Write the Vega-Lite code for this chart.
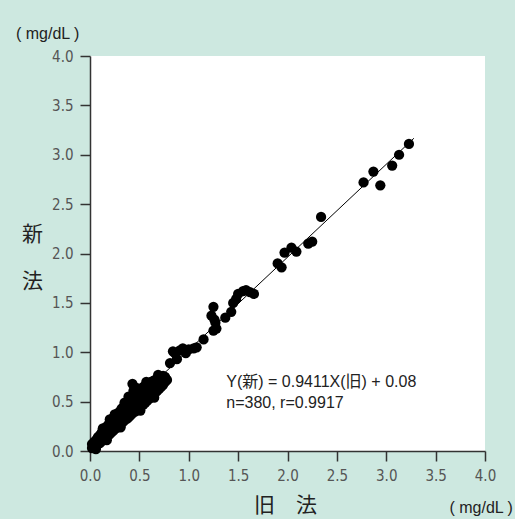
{
  "$schema": "https://vega.github.io/schema/vega-lite/v6.json",
  "width": 395,
  "height": 395,
  "autosize": {"type": "none"},
  "padding": {"left": 90, "top": 56, "right": 30, "bottom": 68},
  "background": "#cde8e0",
  "config": {
    "view": {"fill": "white", "stroke": null},
    "axis": {
      "grid": false,
      "labelFlush": false,
      "domainColor": "#333333",
      "domainWidth": 1.5,
      "tickColor": "#333333",
      "tickWidth": 1.5,
      "tickSize": 10,
      "labelFont": "Liberation Sans Narrow, DejaVu Sans Condensed, sans-serif",
      "labelFontSize": 15,
      "labelColor": "#555555",
      "titleFont": "Noto Sans CJK JP",
      "titleFontSize": 21,
      "titleFontWeight": "normal",
      "titleColor": "#222222"
    }
  },
  "datasets": {
    "pts": [
      {"old":0.02,"new":0.03},{"old":0.02,"new":0.07},{"old":0.04,"new":0.04},{"old":0.04,"new":0.09},{"old":0.06,"new":0.05},{"old":0.06,"new":0.11},{"old":0.06,"new":0.02},{"old":0.08,"new":0.07},{"old":0.08,"new":0.14},{"old":0.08,"new":0.10},
      {"old":0.10,"new":0.08},{"old":0.10,"new":0.16},{"old":0.10,"new":0.12},{"old":0.12,"new":0.10},{"old":0.12,"new":0.19},{"old":0.12,"new":0.14},{"old":0.14,"new":0.12},{"old":0.14,"new":0.21},{"old":0.14,"new":0.16},{"old":0.16,"new":0.13},
      {"old":0.16,"new":0.24},{"old":0.16,"new":0.18},{"old":0.18,"new":0.15},{"old":0.18,"new":0.26},{"old":0.18,"new":0.21},{"old":0.20,"new":0.17},{"old":0.20,"new":0.29},{"old":0.20,"new":0.23},{"old":0.20,"new":0.32},{"old":0.22,"new":0.19},
      {"old":0.22,"new":0.31},{"old":0.22,"new":0.25},{"old":0.24,"new":0.21},{"old":0.24,"new":0.34},{"old":0.24,"new":0.27},{"old":0.24,"new":0.30},{"old":0.26,"new":0.23},{"old":0.26,"new":0.36},{"old":0.26,"new":0.29},{"old":0.28,"new":0.24},
      {"old":0.28,"new":0.38},{"old":0.28,"new":0.32},{"old":0.28,"new":0.28},{"old":0.30,"new":0.26},{"old":0.30,"new":0.40},{"old":0.30,"new":0.34},{"old":0.32,"new":0.28},{"old":0.32,"new":0.43},{"old":0.32,"new":0.36},{"old":0.32,"new":0.32},
      {"old":0.34,"new":0.30},{"old":0.34,"new":0.45},{"old":0.34,"new":0.38},{"old":0.36,"new":0.32},{"old":0.36,"new":0.47},{"old":0.36,"new":0.40},{"old":0.36,"new":0.35},{"old":0.38,"new":0.33},{"old":0.38,"new":0.49},{"old":0.38,"new":0.42},
      {"old":0.40,"new":0.35},{"old":0.40,"new":0.51},{"old":0.40,"new":0.44},{"old":0.40,"new":0.39},{"old":0.42,"new":0.37},{"old":0.42,"new":0.54},{"old":0.42,"new":0.46},{"old":0.44,"new":0.39},{"old":0.44,"new":0.56},{"old":0.44,"new":0.48},
      {"old":0.44,"new":0.61},{"old":0.46,"new":0.40},{"old":0.46,"new":0.58},{"old":0.46,"new":0.50},{"old":0.46,"new":0.45},{"old":0.48,"new":0.42},{"old":0.48,"new":0.60},{"old":0.48,"new":0.52},{"old":0.50,"new":0.44},{"old":0.50,"new":0.62},
      {"old":0.50,"new":0.54},{"old":0.50,"new":0.48},{"old":0.52,"new":0.46},{"old":0.52,"new":0.63},{"old":0.52,"new":0.56},{"old":0.54,"new":0.47},{"old":0.54,"new":0.65},{"old":0.54,"new":0.58},{"old":0.54,"new":0.52},{"old":0.56,"new":0.49},
      {"old":0.56,"new":0.66},{"old":0.56,"new":0.60},{"old":0.58,"new":0.51},{"old":0.58,"new":0.68},{"old":0.58,"new":0.61},{"old":0.58,"new":0.55},{"old":0.60,"new":0.53},{"old":0.60,"new":0.69},{"old":0.60,"new":0.63},{"old":0.62,"new":0.55},
      {"old":0.62,"new":0.70},{"old":0.62,"new":0.65},{"old":0.62,"new":0.59},{"old":0.64,"new":0.57},{"old":0.64,"new":0.71},{"old":0.64,"new":0.66},{"old":0.66,"new":0.59},{"old":0.66,"new":0.72},{"old":0.66,"new":0.67},{"old":0.68,"new":0.61},
      {"old":0.68,"new":0.73},{"old":0.68,"new":0.69},{"old":0.70,"new":0.63},{"old":0.70,"new":0.74},{"old":0.70,"new":0.70},{"old":0.72,"new":0.65},{"old":0.72,"new":0.74},{"old":0.72,"new":0.71},{"old":0.74,"new":0.67},{"old":0.74,"new":0.76},
      {"old":0.76,"new":0.70},{"old":0.76,"new":0.75},{"old":0.78,"new":0.72},{"old":0.43,"new":0.68},{"old":0.47,"new":0.64},{"old":0.75,"new":0.70},
      {"old":0.13,"new":0.23},{"old":0.17,"new":0.11},{"old":0.25,"new":0.37},{"old":0.31,"new":0.24},{"old":0.35,"new":0.49},{"old":0.51,"new":0.41},{"old":0.57,"new":0.70},{"old":0.65,"new":0.54},{"old":0.69,"new":0.77},{"old":0.39,"new":0.55},
      {"old":0.81,"new":0.89},{"old":0.86,"new":0.99},{"old":0.88,"new":0.93},{"old":0.84,"new":1.01},{"old":0.94,"new":1.04},{"old":0.97,"new":0.99},{"old":1.05,"new":1.04},{"old":1.08,"new":1.05},{"old":1.15,"new":1.13},{"old":0.91,"new":1.02},{"old":1.00,"new":1.03},
      {"old":1.25,"new":1.22},{"old":1.28,"new":1.24},{"old":1.27,"new":1.30},{"old":1.23,"new":1.37},{"old":1.25,"new":1.46},{"old":1.26,"new":1.33},{"old":1.37,"new":1.35},{"old":1.43,"new":1.41},{"old":1.45,"new":1.50},{"old":1.48,"new":1.54},
      {"old":1.50,"new":1.59},{"old":1.55,"new":1.62},{"old":1.58,"new":1.63},{"old":1.62,"new":1.61},{"old":1.66,"new":1.59},{"old":1.90,"new":1.90},{"old":1.94,"new":1.86},{"old":1.97,"new":2.01},{"old":2.04,"new":2.06},{"old":2.09,"new":2.02},
      {"old":2.21,"new":2.10},{"old":2.25,"new":2.12},{"old":2.34,"new":2.37},{"old":2.77,"new":2.72},{"old":2.87,"new":2.83},{"old":2.94,"new":2.69},{"old":3.06,"new":2.89},{"old":3.13,"new":3.00},{"old":3.23,"new":3.11}
    ],
    "fit": [{"old": 0.0, "new": 0.08}, {"old": 3.28, "new": 3.167}]
  },
  "layer": [
    {
      "data": {"name": "pts"},
      "mark": {"type": "circle", "size": 105, "color": "black", "opacity": 1},
      "encoding": {
        "x": {
          "field": "old", "type": "quantitative",
          "scale": {"domain": [0, 4], "nice": false, "zero": false},
          "axis": {
            "values": [0, 0.5, 1, 1.5, 2, 2.5, 3, 3.5, 4],
            "format": ".1f",
            "labelPadding": 7,
            "title": "旧　法",
            "titleX": 195,
            "titleY": 54,
            "titleAlign": "center",
            "titleBaseline": "middle"
          }
        },
        "y": {
          "field": "new", "type": "quantitative",
          "scale": {"domain": [0, 4], "nice": false, "zero": false},
          "axis": {
            "values": [0, 0.5, 1, 1.5, 2, 2.5, 3, 3.5, 4],
            "format": ".1f",
            "labelPadding": 7,
            "title": ["新", "法"],
            "titleAngle": 0,
            "titleX": -58,
            "titleY": 178,
            "titleAlign": "center",
            "titleBaseline": "middle",
            "titleLineHeight": 47
          }
        }
      }
    },
    {
      "data": {"name": "fit"},
      "mark": {"type": "line", "color": "black", "strokeWidth": 1},
      "encoding": {
        "x": {"field": "old", "type": "quantitative"},
        "y": {"field": "new", "type": "quantitative"}
      }
    },
    {
      "data": {"values": [{}]},
      "mark": {"type": "text", "align": "left", "baseline": "middle", "font": "Liberation Sans, Noto Sans CJK JP", "fontSize": 16, "color": "#222222"},
      "encoding": {
        "x": {"datum": 1.38, "type": "quantitative"},
        "y": {"datum": 0.70, "type": "quantitative"},
        "text": {"value": "Y(新) = 0.9411X(旧) + 0.08"}
      }
    },
    {
      "data": {"values": [{}]},
      "mark": {"type": "text", "align": "left", "baseline": "middle", "font": "Liberation Sans, Noto Sans CJK JP", "fontSize": 16, "color": "#222222"},
      "encoding": {
        "x": {"datum": 1.38, "type": "quantitative"},
        "y": {"datum": 0.486, "type": "quantitative"},
        "text": {"value": "n=380, r=0.9917"}
      }
    },
    {
      "data": {"values": [{}]},
      "mark": {"type": "text", "align": "left", "baseline": "middle", "font": "Liberation Sans", "fontSize": 16, "color": "#222222"},
      "encoding": {
        "x": {"datum": -0.75, "type": "quantitative"},
        "y": {"datum": 4.22, "type": "quantitative"},
        "text": {"value": "( mg/dL )"}
      }
    },
    {
      "data": {"values": [{}]},
      "mark": {"type": "text", "align": "left", "baseline": "middle", "font": "Liberation Sans", "fontSize": 16, "color": "#222222"},
      "encoding": {
        "x": {"datum": 3.64, "type": "quantitative"},
        "y": {"datum": -0.577, "type": "quantitative"},
        "text": {"value": "( mg/dL )"}
      }
    }
  ]
}
